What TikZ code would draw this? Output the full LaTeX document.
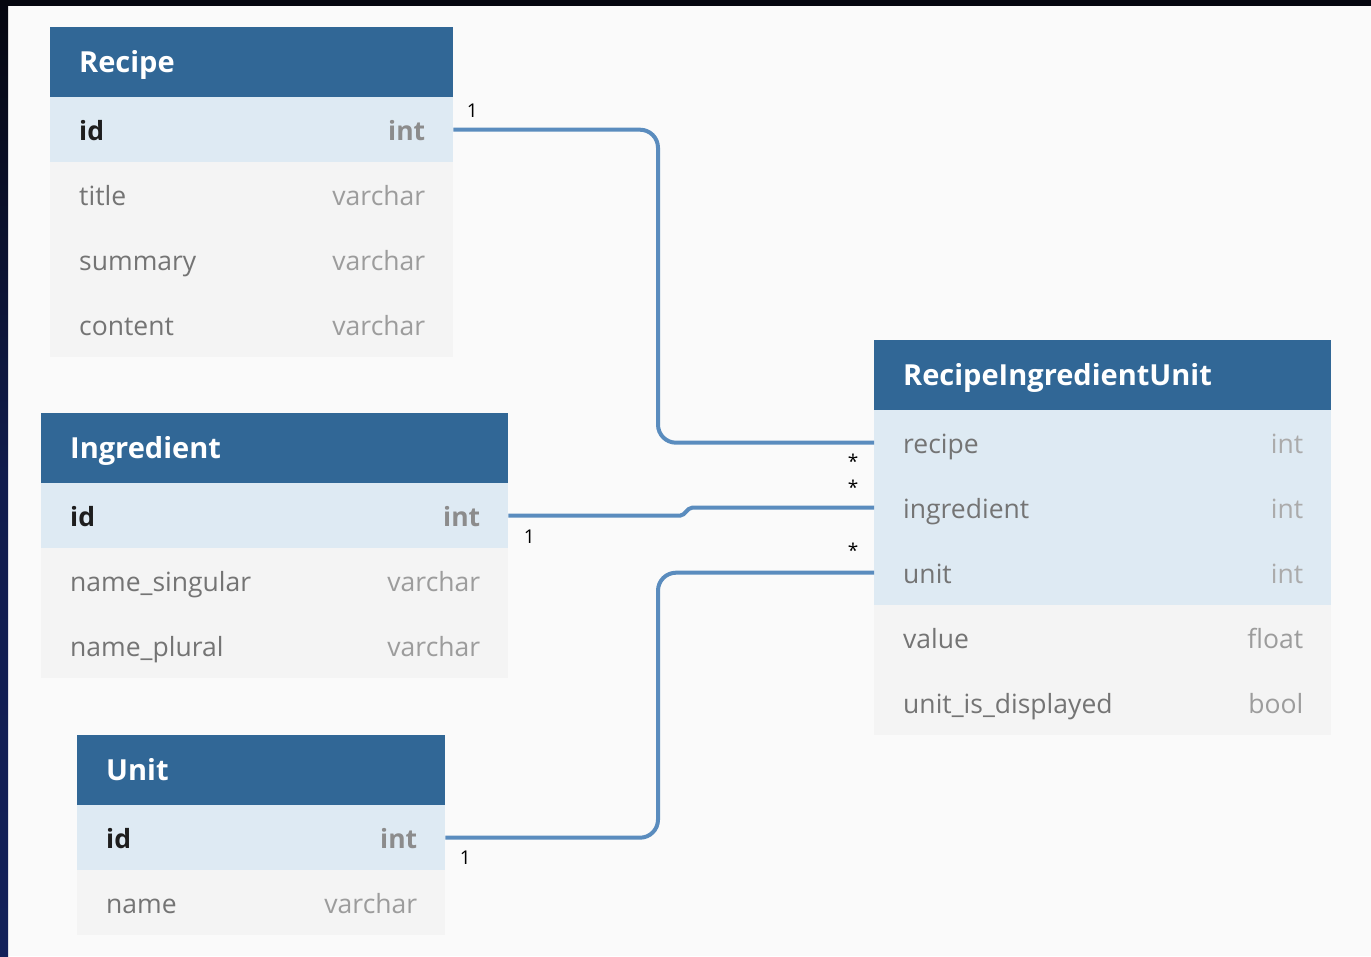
\documentclass[tikz,border=0pt]{standalone}
\usepackage{fontspec}
\setmainfont{Open Sans}
\definecolor{pagebg}{HTML}{FAFAFA}
\definecolor{hdrblue}{HTML}{316796}
\definecolor{keyrowfill}{HTML}{DEEAF3}
\definecolor{plainrowfill}{HTML}{F4F4F4}
\definecolor{linkblue}{HTML}{5A8CBE}
\definecolor{framenavy}{HTML}{13215A}
\definecolor{frameblack}{HTML}{05060F}
\definecolor{keyname}{HTML}{1E1E1E}
\definecolor{keytype}{HTML}{8C8C8C}
\definecolor{fieldname}{HTML}{747474}
\definecolor{fieldtype}{HTML}{9C9C9C}
\definecolor{fktype}{HTML}{ABABAB}

% table header: coloured bar plus its title
\newcommand\tblhead[5]{%
  \node[hdr, minimum width=#4] (#1) at (#2,#3) {};
  \node[hdrtext] (#1-label) at ([xshift=29pt,yshift=-10pt]#1.west) {#5};}
% table row: #1 name, #2 x, #3 y, #4 width, #5 row style,
% #6 field style, #7 type style, #8 field, #9 type
\newcommand\tblrow[9]{%
  \node[tblrowbox, #5, minimum width=#4] (#1) at (#2,#3) {};
  \node[anchor=base west, #6] (#1-name) at ([xshift=29pt,yshift=-10.5pt]#1.west) {#8};
  \node[anchor=base east, #7] (#1-type) at ([xshift=-28pt,yshift=-10.5pt]#1.east) {#9};}

\begin{document}
\begin{tikzpicture}[x=1pt, y=-1pt,
  hdr/.style={rectangle, anchor=north west, inner sep=0pt, minimum height=70pt, fill=hdrblue},
  hdrtext/.style={anchor=base west, inner sep=0pt, text=white,
    font=\fontsize{29}{33}\selectfont\bfseries},
  tblrowbox/.style={rectangle, anchor=north west, inner sep=0pt, minimum height=65pt},
  keyrow/.style={fill=keyrowfill},
  plainrow/.style={fill=plainrowfill},
  txt/.style={inner sep=0pt, font=\fontsize{26.5}{30}\selectfont},
  pkname/.style={txt, text=keyname, font=\fontsize{26.5}{30}\selectfont\bfseries},
  pktype/.style={txt, text=keytype, font=\fontsize{26.5}{30}\selectfont\bfseries},
  fname/.style={txt, text=fieldname},
  ftype/.style={txt, text=fieldtype},
  fkname/.style={txt, text=fieldname},
  fktypestyle/.style={txt, text=fktype},
  link/.style={draw=linkblue, line width=4pt, rounded corners=18pt},
  card/.style={inner sep=0pt, font=\fontsize{19}{22}\selectfont, text=black}]

\useasboundingbox (0,0) rectangle (1371,956);
% page background and dark frame
\fill[pagebg] (0,0) rectangle (1371,956);
\shade[top color=frameblack, bottom color=framenavy, middle color=framenavy!85!black] (0,0) rectangle (8,956);
\fill[frameblack] (0,0) rectangle (1371,6);

% Recipe
\tblhead{recipe}{50}{27}{403}{Recipe}
\tblrow{recipe-id}{50}{97}{403}{keyrow}{pkname}{pktype}{id}{int}
\tblrow{recipe-title}{50}{162}{403}{plainrow}{fname}{ftype}{title}{varchar}
\tblrow{recipe-summary}{50}{227}{403}{plainrow}{fname}{ftype}{summary}{varchar}
\tblrow{recipe-content}{50}{292}{403}{plainrow}{fname}{ftype}{content}{varchar}

% Ingredient
\tblhead{ing}{41}{413}{467}{Ingredient}
\tblrow{ing-id}{41}{483}{467}{keyrow}{pkname}{pktype}{id}{int}
\tblrow{ing-sing}{41}{548}{467}{plainrow}{fname}{ftype}{name\_singular}{varchar}
\tblrow{ing-plur}{41}{613}{467}{plainrow}{fname}{ftype}{name\_plural}{varchar}

% Unit
\tblhead{unit}{77}{735}{368}{Unit}
\tblrow{unit-id}{77}{805}{368}{keyrow}{pkname}{pktype}{id}{int}
\tblrow{unit-name}{77}{870}{368}{plainrow}{fname}{ftype}{name}{varchar}

% RecipeIngredientUnit
\tblhead{riu}{874}{340}{457}{RecipeIngredientUnit}
\tblrow{riu-recipe}{874}{410}{457}{keyrow}{fkname}{fktypestyle}{recipe}{int}
\tblrow{riu-ing}{874}{475}{457}{keyrow}{fkname}{fktypestyle}{ingredient}{int}
\tblrow{riu-unit}{874}{540}{457}{keyrow}{fkname}{fktypestyle}{unit}{int}
\tblrow{riu-value}{874}{605}{457}{plainrow}{fname}{ftype}{value}{float}
\tblrow{riu-shown}{874}{670}{457}{plainrow}{fname}{ftype}{unit\_is\_displayed}{bool}

% relations
\coordinate (busx) at (658,0);
\coordinate (jogA) at (682,0);
\coordinate (jogB) at (690,0);
\draw[link] (recipe-id.east) -- (recipe-id.east -| busx) -- (riu-recipe.west -| busx) -- (riu-recipe.west);
\draw[link, rounded corners=2pt] (ing-id.east) -- (ing-id.east -| jogA) -- (riu-ing.west -| jogB) -- (riu-ing.west);
\draw[link] (unit-id.east) -- (unit-id.east -| busx) -- (riu-unit.west -| busx) -- (riu-unit.west);

% cardinalities
\node[card] (c1) at ([xshift=19pt,yshift=18.5pt]recipe-id.east) {1};
\node[card] (c2) at ([xshift=21pt,yshift=-21.5pt]ing-id.east) {1};
\node[card] (c3) at ([xshift=20pt,yshift=-20.5pt]unit-id.east) {1};
\node[card] (m1) at ([xshift=-21pt,yshift=-18.5pt]riu-recipe.west) {*};
\node[card] (m2) at ([xshift=-21pt,yshift=20.5pt]riu-ing.west) {*};
\node[card] (m3) at ([xshift=-21pt,yshift=22.5pt]riu-unit.west) {*};
\end{tikzpicture}
\end{document}
